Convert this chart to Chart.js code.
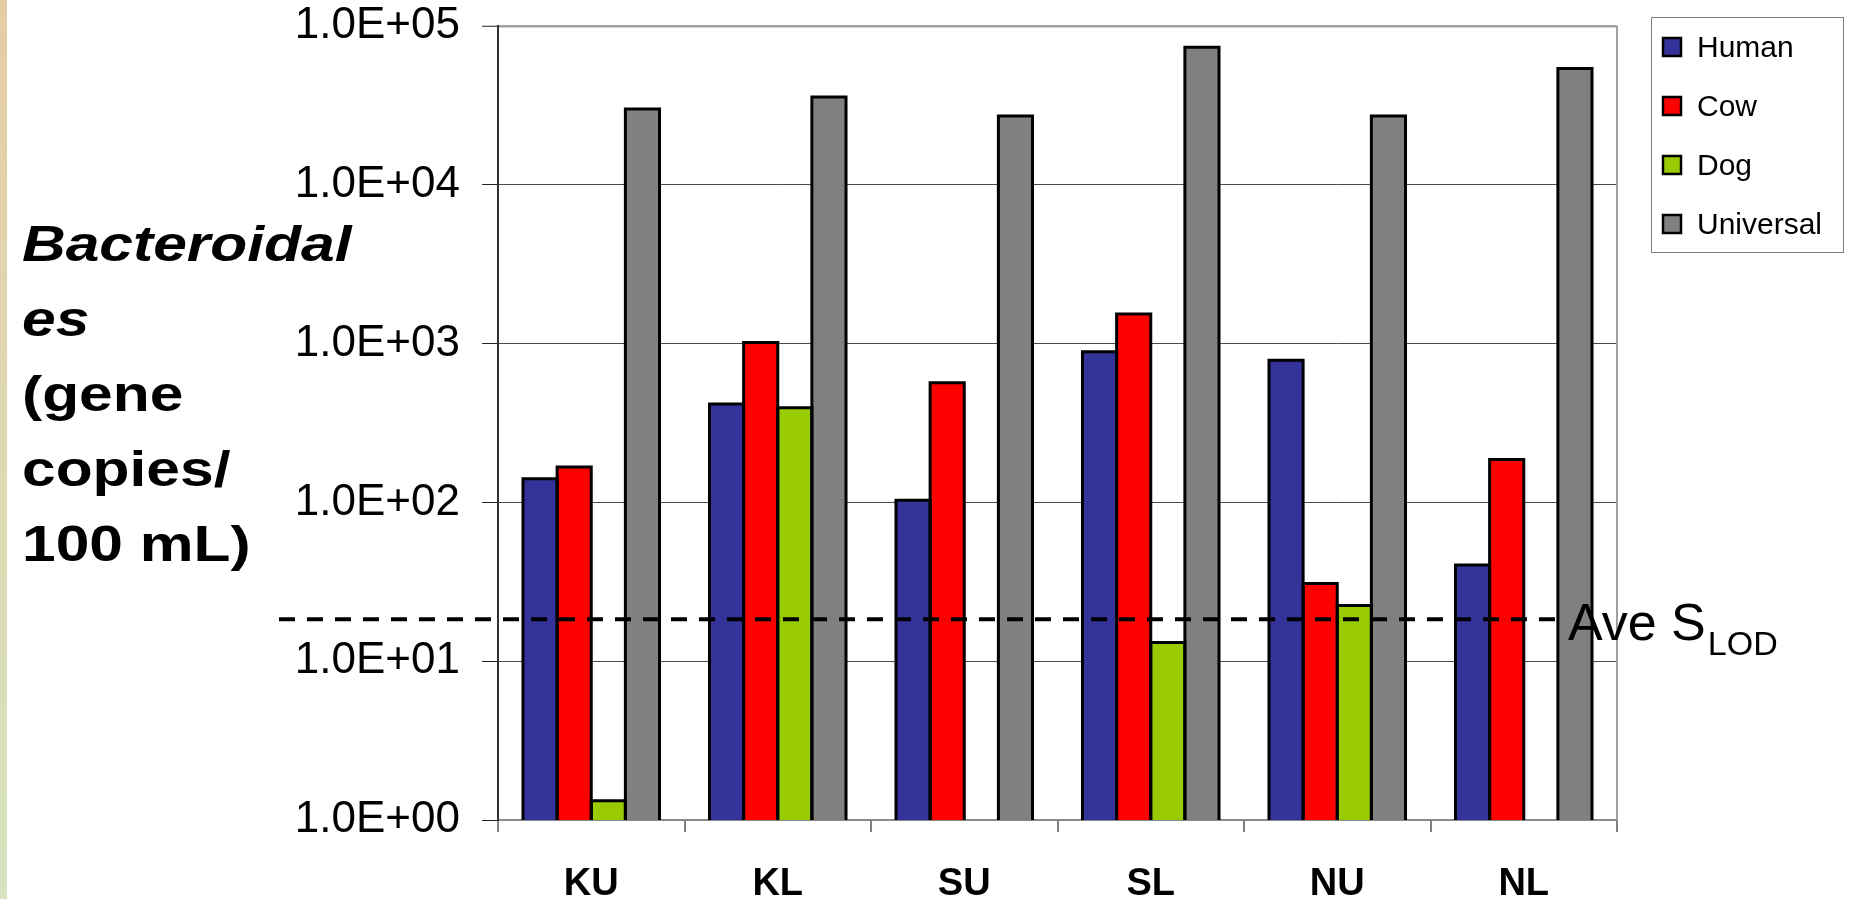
<!DOCTYPE html>
<html>
<head>
<meta charset="utf-8">
<script src="https://cdn.jsdelivr.net/npm/chart.js@4/dist/chart.umd.min.js"></script>
<style>
  html, body { margin: 0; padding: 0; background: #ffffff; overflow: hidden; }
  #wrap { position: relative; width: 1858px; height: 899px; }
</style>
</head>
<body>
<div id="wrap"><canvas id="c" width="1858" height="899"></canvas></div>
<script>
// Sampling sites
const sites = ['KU', 'KL', 'SU', 'SL', 'NU', 'NL'];

// Bacteroidales marker concentrations (gene copies / 100 mL)
const human     = [141, 416, 103, 887, 786, 40.4];
const cow       = [167, 1017, 567, 1537, 30.9, 186];
const dog       = [1.32, 395, null, 13.1, 22.4, null];
const universal = [30000, 35700, 27100, 73400, 27100, 53900];

const seriesNames  = ['Human', 'Cow', 'Dog', 'Universal'];
const seriesColors = ['#333399', '#FF0000', '#99CC00', '#808080'];

// Logarithmic axis ticks
const yTickValues = [1, 10, 100, 1000, 10000, 100000];
const yTickLabels = ['1.0E+00', '1.0E+01', '1.0E+02', '1.0E+03', '1.0E+04', '1.0E+05'];

// Average sample limit of detection
const lodValue = 18.4;
const lodText = 'Ave S';
const lodSubText = 'LOD';

// Axis title lines (italic flag per line)
const yTitleLines = ['Bacteroidal', 'es', '(gene', 'copies/', '100 mL)'];
const yTitleItalic = [true, true, false, false, false];

const FONT = '"Liberation Sans", Arial, Helvetica, sans-serif';

const decorPlugin = {
  id: 'decor',
  beforeDraw(chart) {
    const ctx = chart.ctx;
    ctx.save();
    // thin coloured strip on the left edge
    const g = ctx.createLinearGradient(0, 0, 0, chart.height);
    g.addColorStop(0, '#e6cda4');
    g.addColorStop(1, '#d6e4bf');
    ctx.fillStyle = g;
    ctx.fillRect(0, 0, 7, chart.height);

    // y axis title
    ctx.fillStyle = '#000';
    ctx.textBaseline = 'alphabetic';
    ctx.textAlign = 'left';
    yTitleLines.forEach((line, i) => {
      ctx.save();
      ctx.font = (yTitleItalic[i] ? 'italic ' : '') + 'bold 50px ' + FONT;
      ctx.translate(22, 261 + i * 75);
      ctx.scale(1.21, 1);
      ctx.fillText(line, 0, 0);
      ctx.restore();
    });
    ctx.restore();
  },
  afterDatasetsDraw(chart) {
    const ctx = chart.ctx;
    const area = chart.chartArea;
    ctx.save();

    // black outlines round every bar (left, top and right sides)
    ctx.strokeStyle = '#000';
    ctx.lineWidth = 3;
    ctx.lineJoin = 'miter';
    chart.data.datasets.forEach((ds, di) => {
      chart.getDatasetMeta(di).data.forEach((bar, j) => {
        if (ds.data[j] == null) return;
        const p = bar.getProps(['x', 'y', 'base', 'width'], true);
        const l = p.x - p.width / 2, r = p.x + p.width / 2;
        ctx.beginPath();
        ctx.moveTo(l, p.base);
        ctx.lineTo(l, p.y);
        ctx.lineTo(r, p.y);
        ctx.lineTo(r, p.base);
        ctx.stroke();
      });
    });

    // right-hand frame line
    ctx.strokeStyle = '#a0a0a0';
    ctx.lineWidth = 2;
    ctx.beginPath();
    ctx.moveTo(area.right, area.top);
    ctx.lineTo(area.right, area.bottom);
    ctx.stroke();

    // limit of detection line
    const y = chart.scales.y.getPixelForValue(lodValue);
    ctx.strokeStyle = '#000';
    ctx.lineWidth = 4;
    ctx.setLineDash([16, 12]);
    ctx.beginPath();
    ctx.moveTo(279, y);
    ctx.lineTo(1556, y);
    ctx.stroke();
    ctx.setLineDash([]);

    ctx.fillStyle = '#000';
    ctx.textBaseline = 'alphabetic';
    ctx.textAlign = 'left';
    ctx.font = '52px ' + FONT;
    ctx.fillText(lodText, 1568, y + 21);
    const w = ctx.measureText(lodText).width;
    ctx.font = '34px ' + FONT;
    ctx.fillText(lodSubText, 1568 + w + 2, y + 36);
    ctx.restore();
  },
  afterDraw(chart) {
    const ctx = chart.ctx;
    ctx.save();
    // legend frame
    ctx.strokeStyle = '#808080';
    ctx.lineWidth = 1;
    ctx.strokeRect(1651.5, 17.5, 192, 235);
    ctx.font = '30px ' + FONT;
    ctx.textBaseline = 'alphabetic';
    ctx.textAlign = 'left';
    chart.data.datasets.forEach((ds, i) => {
      const base = 57 + i * 59;
      const cy = base - 10;
      ctx.fillStyle = ds.backgroundColor;
      ctx.fillRect(1662, cy - 10, 20, 20);
      ctx.strokeStyle = '#000';
      ctx.lineWidth = 2.5;
      ctx.strokeRect(1663, cy - 9, 18, 18);
      ctx.fillStyle = '#000';
      ctx.fillText(ds.label, 1697, base);
    });
    ctx.restore();
  }
};

const datasets = [human, cow, dog, universal].map((vals, i) => ({
  label: seriesNames[i],
  data: vals,
  backgroundColor: seriesColors[i],
  borderWidth: 0,
  categoryPercentage: 0.732,
  barPercentage: 1.0
}));

new Chart(document.getElementById('c'), {
  type: 'bar',
  data: { labels: sites, datasets },
  plugins: [decorPlugin],
  options: {
    responsive: false,
    devicePixelRatio: 1,
    animation: false,
    layout: { padding: { left: 0, right: 241, top: 26, bottom: 0 } },
    plugins: {
      legend: { display: false },
      tooltip: { enabled: false },
      title: { display: false }
    },
    scales: {
      x: {
        offset: true,
        grid: {
          offset: true,
          drawOnChartArea: false,
          drawTicks: true,
          tickLength: 12,
          color: '#808080',
          tickColor: '#808080',
          lineWidth: 2
        },
        border: { display: true, color: '#8a8a8a', width: 2 },
        ticks: {
          color: '#000',
          font: { family: FONT, size: 38, weight: 'bold' },
          padding: 30,
          maxRotation: 0,
          autoSkip: false
        },
        afterFit(s) {
          s.height = 79;
          s.paddingLeft = 0;
          s.paddingRight = 0;
        }
      },
      y: {
        type: 'logarithmic',
        min: 1,
        max: 100000,
        afterBuildTicks(s) {
          s.ticks = yTickValues.map(v => ({ value: v }));
        },
        grid: {
          drawTicks: true,
          tickLength: 16,
          color: c => (c.tick && (c.tick.value === 100000 || c.tick.value === 1)) ? '#a0a0a0' : '#4a4a4a',
          lineWidth: c => (c.tick && c.tick.value === 100000) ? 2.5 : 1,
          tickColor: '#222',
          tickWidth: 1
        },
        border: { display: true, color: '#333', width: 2 },
        ticks: {
          color: '#000',
          font: { family: FONT, size: 44 },
          padding: 22,
          callback: (value, index) => yTickLabels[index]
        },
        afterFit(s) {
          s.width = 498;
          s.paddingTop = 0;
          s.paddingBottom = 0;
        }
      }
    }
  }
});
</script>
</body>
</html>
